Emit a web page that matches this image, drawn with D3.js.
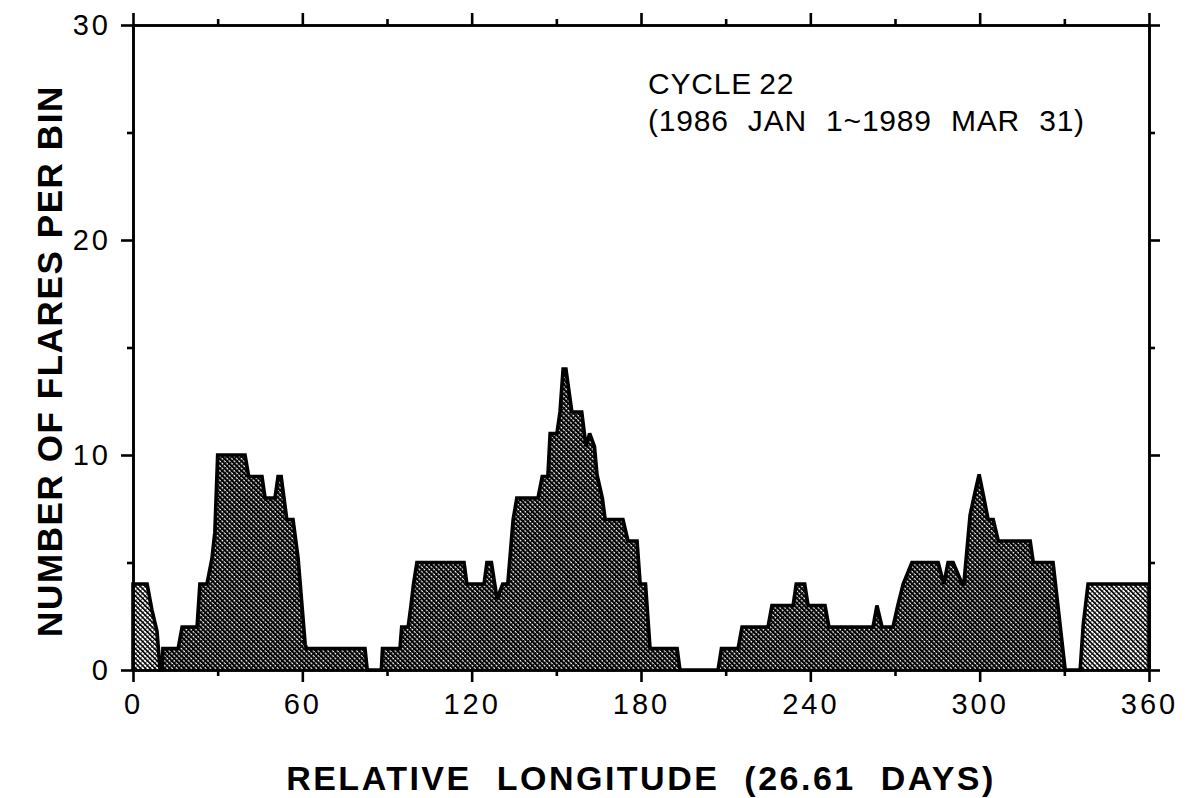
<!DOCTYPE html>
<html>
<head>
<meta charset="utf-8">
<script src="https://cdn.jsdelivr.net/npm/d3@7"></script>
<style>
  html, body { margin: 0; padding: 0; background: #fff; }
  svg { display: block; font-family: "Liberation Sans", Arial, Helvetica, sans-serif; }
</style>
</head>
<body>
<svg id="chart" width="1187" height="798"></svg>
<script>
// Flare counts per longitude bin (sliding bins), traced as vertices of the outline.
const longitude = [
  0, 0, 5, 6.7, 8.5, 9.6,
  10.3, 10.6, 16, 17.4, 22.7, 23.7, 26.2, 28, 29, 30, 39.7, 41, 45.7, 46.8, 50.3, 51.4, 52.5, 54.5, 56.7, 58.5, 61, 61.5, 82.2, 83,
  88, 88.4, 94.6, 95.2, 97.5, 98.5, 99.4, 100.6, 117.3, 118.3, 124.4, 125.4, 127, 129, 131, 132.8, 134.7, 136, 143.5, 145, 147, 147.8, 150.2, 151.3, 152.4, 153.4, 155.5, 159, 160.5, 161.8, 163.5, 164.4, 166.3, 167.3, 173.6, 175.4, 178.6, 179.7, 181.6, 183.2, 192.8, 193.8,
  207.3, 208.5, 214.4, 215.8, 225, 226.4, 233.9, 235, 238, 239.2, 245.2, 246.6, 262.2, 263.6, 265.4, 269.3, 271, 272.9, 276, 285.3, 287.3, 288.8, 290.6, 293.8, 294.4, 296.6, 298.4, 299.8, 301.2, 303, 304.8, 306.6, 317.9, 319, 326, 330.3,
  335.6, 336.7, 338.4, 360, 360
];
const flares = [
  0, 4, 4, 2.8, 1.8, 0,
  0, 1, 1, 2, 2, 4, 4, 5.2, 6.4, 10, 10, 9, 9, 8, 8, 9, 9, 7, 7, 5.2, 1.2, 1, 1, 0,
  0, 1, 1, 2, 2, 3, 4, 5, 5, 4, 4, 5, 5, 3.3, 4, 4, 7, 8, 8, 9, 9, 11, 11, 12, 14, 14, 12, 12, 10.4, 11, 10.4, 9.1, 8, 7, 7, 6, 6, 4, 4, 1, 1, 0,
  0, 1, 1, 2, 2, 3, 3, 4, 4, 3, 3, 2, 2, 3, 2, 2, 3, 4, 5, 5, 4, 5, 5, 4, 4, 7.2, 8.3, 9.1, 8.2, 7, 7, 6, 6, 5, 5, 0,
  0, 2.1, 4, 4, 0
];

const xMajorTicks = [0, 60, 120, 180, 240, 300, 360];
const xMinorTicks = [30, 90, 150, 210, 270, 330];
const yMajorTicks = [0, 10, 20, 30];
const yMinorTicks = [5, 15, 25];

const xTitle = "RELATIVE LONGITUDE (26.61 DAYS)";
const yTitle = "NUMBER OF FLARES PER BIN";
const noteLines = ["CYCLE 22", "(1986 JAN 1~1989 MAR 31)"];

const svg = d3.select("#chart");
const plotLeft = 133, plotRight = 1149, plotTop = 25, plotBottom = 670;

const x = d3.scaleLinear().domain([0, 360]).range([plotLeft, plotRight]);
const y = d3.scaleLinear().domain([0, 30]).range([plotBottom, plotTop]);

// Halftone-like fills: darker for interior humps, lighter for the humps that wrap at 0/360
const defs = svg.append("defs");
function hatch(id, width, cross) {
  const p = defs.append("pattern")
    .attr("id", id).attr("patternUnits", "userSpaceOnUse")
    .attr("width", 3.4).attr("height", 3.4)
    .attr("patternTransform", "rotate(-45)");
  p.append("rect").attr("width", 3.4).attr("height", 3.4).attr("fill", "#fff");
  p.append("rect").attr("x", 0).attr("y", 0).attr("width", width).attr("height", 3.4).attr("fill", "#000");
  if (cross) p.append("rect").attr("x", 0).attr("y", 0).attr("width", 3.4).attr("height", cross).attr("fill", "#000");
}
hatch("fillDark", 2.2, 1.2);
hatch("fillLight", 1.6, 0.6);

const pts = longitude.map((lon, i) => ({ lon, n: flares[i] }));

// Split the outline into humps separated by empty bins
const runs = [];
let cur = null;
pts.forEach(p => {
  if (!cur) { cur = [p]; return; }
  cur.push(p);
  if (p.n === 0 && cur.some(q => q.n > 0)) { runs.push(cur); cur = null; }
});
if (cur && cur.length > 1) runs.push(cur);

const area = d3.area().x(d => x(d.lon)).y0(y(0)).y1(d => y(d.n));
const g = svg.append("g");
runs.forEach(r => {
  const edge = r[0].lon === 0 || r[r.length - 1].lon === 360;
  g.append("path").datum(r).attr("d", area)
    .attr("fill", edge ? "url(#fillLight)" : "url(#fillDark)")
    .attr("stroke", "none");
});

const line = d3.line().x(d => x(d.lon)).y(d => y(d.n));
g.append("path").datum(pts).attr("d", line)
  .attr("fill", "none").attr("stroke", "#000").attr("stroke-width", 3.6)
  .attr("stroke-linejoin", "miter").attr("stroke-miterlimit", 3);

// Axes on all four sides, ticks pointing outward
function styleAxis(sel) {
  sel.selectAll("path.domain").attr("stroke", "#000").attr("stroke-width", 2.6);
  sel.selectAll(".tick line").attr("stroke", "#000").attr("stroke-width", 2.6);
  sel.selectAll(".tick text")
    .attr("fill", "#000")
    .style("font-family", "'Liberation Sans', Arial, Helvetica, sans-serif")
    .style("font-size", "29px")
    .style("letter-spacing", "3px");
}

svg.append("g").attr("transform", `translate(0,${plotBottom})`)
  .call(d3.axisBottom(x).tickValues(xMajorTicks).tickSize(12).tickSizeOuter(0).tickPadding(11).tickFormat(d3.format("d")))
  .call(styleAxis);
svg.append("g").attr("transform", `translate(0,${plotBottom})`)
  .call(d3.axisBottom(x).tickValues(xMinorTicks).tickSize(6).tickSizeOuter(0).tickFormat(""))
  .call(styleAxis);
svg.append("g").attr("transform", `translate(0,${plotTop})`)
  .call(d3.axisTop(x).tickValues(xMajorTicks).tickSize(12).tickSizeOuter(0).tickFormat(""))
  .call(styleAxis);
svg.append("g").attr("transform", `translate(0,${plotTop})`)
  .call(d3.axisTop(x).tickValues(xMinorTicks).tickSize(6).tickSizeOuter(0).tickFormat(""))
  .call(styleAxis);
svg.append("g").attr("transform", `translate(${plotLeft},0)`)
  .call(d3.axisLeft(y).tickValues(yMajorTicks).tickSize(12).tickSizeOuter(0).tickPadding(10).tickFormat(d3.format("d")))
  .call(styleAxis);
svg.append("g").attr("transform", `translate(${plotLeft},0)`)
  .call(d3.axisLeft(y).tickValues(yMinorTicks).tickSize(6).tickSizeOuter(0).tickFormat(""))
  .call(styleAxis);
svg.append("g").attr("transform", `translate(${plotRight},0)`)
  .call(d3.axisRight(y).tickValues(yMajorTicks).tickSize(11).tickSizeOuter(0).tickFormat(""))
  .call(styleAxis);
svg.append("g").attr("transform", `translate(${plotRight},0)`)
  .call(d3.axisRight(y).tickValues(yMinorTicks).tickSize(6).tickSizeOuter(0).tickFormat(""))
  .call(styleAxis);

// Axis titles
svg.append("text")
  .attr("x", 641).attr("y", 790)
  .attr("text-anchor", "middle")
  .style("font-size", "34px").style("font-weight", "bold")
  .style("letter-spacing", "2.5px").style("word-spacing", "13px")
  .text(xTitle);

svg.append("text")
  .attr("transform", "translate(62,361) rotate(-90)")
  .attr("text-anchor", "middle")
  .style("font-size", "35px").style("font-weight", "bold")
  .style("letter-spacing", "1.6px")
  .text(yTitle);

// Period note
svg.append("g").selectAll("text").data(noteLines).join("text")
  .attr("x", 648).attr("y", (d, i) => 94 + i * 37)
  .style("font-size", "30px")
  .style("letter-spacing", "0.8px").style("word-spacing", (d, i) => i ? "10px" : "-2px")
  .text(d => d);
</script>
</body>
</html>
